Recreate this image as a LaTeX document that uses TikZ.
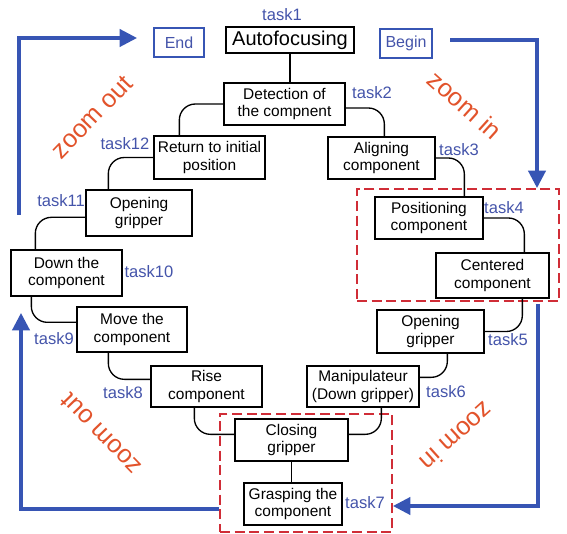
\documentclass[tikz,border=0pt]{standalone}
\usepackage{fontspec}
\setmainfont{Liberation Sans}
\usepackage{tikz}
\usetikzlibrary{calc, arrows.meta}
\definecolor{taskblue}{RGB}{68,84,170}
\definecolor{arrowblue}{RGB}{55,85,180}
\definecolor{zoomred}{RGB}{226,83,43}
\definecolor{dashred}{RGB}{208,45,55}

\begin{document}
\begin{tikzpicture}[x=0.75pt,y=0.75pt,yscale=-1,xscale=1,
    taskbox/.style={draw, line width=1pt, inner sep=0pt, align=center, font=\fontsize{11.6}{13}\selectfont},
    termbox/.style={draw=arrowblue, line width=0.8pt, text=taskblue, inner sep=0pt, font=\fontsize{12}{14}\selectfont},
    tasklbl/.style={text=taskblue, inner sep=0pt, font=\fontsize{12.4}{14}\selectfont},
    zoomlbl/.style={text=zoomred, inner sep=0pt, font=\fontsize{19}{20}\selectfont},
    redbox/.style={draw=dashred, line width=1.5pt, dash pattern=on 7.5pt off 3.5pt, inner sep=0pt},
    conn/.style={line width=1pt, rounded corners=12pt},
    zoomarrow/.style={draw=arrowblue, line width=2.3pt, -{Triangle[width=13pt,length=13pt]}}]
    %set diagram size to 567 x 534
    \useasboundingbox (0,0) rectangle (567,534);

    % dashed zones
    \node[redbox, minimum width=151.5pt, minimum height=84pt] (zr) at (458,245) {};
    \node[redbox, minimum width=129pt, minimum height=88.5pt] (zb) at (306,473) {};

    % Task boxes
    \node[taskbox, minimum width=96pt, minimum height=19.5pt, font=\fontsize{15}{17}\selectfont] (auto) at (290,40) {Autofocusing};
    \node[taskbox, minimum width=90.75pt, minimum height=31.5pt] (detect) at (284.5,104) {Detection of\\the compnent};
    \node[taskbox, minimum width=80.25pt, minimum height=31.5pt] (align) at (381.5,158) {Aligning\\component};
    \node[taskbox, minimum width=81pt, minimum height=31.5pt] (posit) at (429,218) {Positioning\\component};
    \node[taskbox, minimum width=84.75pt, minimum height=33.75pt] (center) at (492.5,275.5) {Centered\\component};
    \node[taskbox, minimum width=80.25pt, minimum height=32.25pt] (openr) at (430.5,331.5) {Opening\\gripper};
    \node[taskbox, minimum width=84pt, minimum height=30.75pt] (manip) at (363,386.5) {Manipulateur\\(Down gripper)};
    \node[taskbox, minimum width=84.75pt, minimum height=31.5pt] (close) at (291.5,440) {Closing\\gripper};
    \node[taskbox, minimum width=73.5pt, minimum height=31.5pt] (grasp) at (293,504) {Grasping the\\component};
    \node[taskbox, minimum width=83.25pt, minimum height=30.75pt] (rise) at (206.5,386.5) {Rise\\component};
    \node[taskbox, minimum width=82.5pt, minimum height=33.75pt] (move) at (132,329.5) {Move the\\component};
    \node[taskbox, minimum width=83.25pt, minimum height=34.5pt] (down) at (66.5,273) {Down the\\component};
    \node[taskbox, minimum width=79.5pt, minimum height=34.5pt] (openl) at (139,213) {Opening\\gripper};
    \node[taskbox, minimum width=83.25pt, minimum height=32.25pt] (ret) at (209.5,157.5) {Return to initial\\position};

    % Begin / End
    \node[termbox, minimum width=37.5pt, minimum height=21.75pt] (endb) at (179,42.5) {End};
    \node[termbox, minimum width=39pt, minimum height=21.75pt] (begb) at (406,43.5) {Begin};

    % Task labels
    \node[tasklbl] (t1) at (282,15) {task1};
    \node[tasklbl] (t2) at (372,93) {task2};
    \node[tasklbl] (t3) at (459,150) {task3};
    \node[tasklbl] (t4) at (504,208) {task4};
    \node[tasklbl] (t5) at (508,340) {task5};
    \node[tasklbl] (t6) at (446,392) {task6};
    \node[tasklbl] (t7) at (365,503) {task7};
    \node[tasklbl] (t8) at (123,393) {task8};
    \node[tasklbl] (t9) at (54,339) {task9};
    \node[tasklbl] (t10) at (149,272) {task10};
    \node[tasklbl] (t11) at (61,201) {task11};
    \node[tasklbl] (t12) at (125,144) {task12};

    % zoom labels
    \node[zoomlbl, rotate=46] (zo1) at (92,117) {zoom out};
    \node[zoomlbl, rotate=-42] (zi1) at (465,105) {zoom in};
    \node[zoomlbl, rotate=134] (zo2) at (101,434) {zoom out};
    \node[zoomlbl, rotate=222] (zi2) at (457,437) {zoom in};

    % Connectors
    \draw[conn] (auto.south) -- (auto.south |- detect.north);
    \draw[conn] (detect.west) -| ($(ret.north west)+(26,0)$);
    \draw[conn] ($(detect.east)+(0,4)$) -| ($(align.north west)+(57,0)$);
    \draw[conn] (align.east) -| ($(posit.north west)+(90,0)$);
    \draw[conn] (posit.east) -| ($(center.north west)+(89,0)$);
    \draw[conn] ($(center.south west)+(87,0)$) |- (openr.east);
    \draw[conn] ($(openr.south west)+(71,0)$) |- ($(manip.north east)+(0,12)$);
    \draw[conn] ($(manip.south west)+(75,0)$) |- ($(close.north east)+(0,16)$);
    \draw[conn] (close.south) -- (close.south |- grasp.north);
    \draw[conn] ($(rise.south west)+(44,0)$) |- ($(close.north west)+(0,16)$);
    \draw[conn] ($(move.south west)+(32,0)$) |- ($(rise.north west)+(0,14)$);
    \draw[conn] ($(down.south west)+(21,0)$) |- ($(move.north west)+(0,16)$);
    \draw[conn] ($(openl.north west)+(0,28)$) -| ($(down.north west)+(25,0)$);
    \draw[conn] (ret.west) -| ($(openl.north west)+(23,0)$);

    % zoom arrows
    \coordinate (bgo) at (450,40);
    \coordinate (bcor) at (537,40);
    \coordinate (rcor) at (538,506);
    \coordinate (lcor) at (21,509);
    \coordinate (lup) at (21,313);
    \coordinate (lbot) at (19,215);
    \coordinate (ltop) at (19,38);
    \coordinate (ltip) at (137,38);
    \draw[zoomarrow] (bgo) -- (bcor) -- (bcor |- zr.north);
    \draw[zoomarrow] ($(rcor |- zr.south)+(0,2)$) -- (rcor) -- (rcor -| zb.east);
    \draw[zoomarrow] (zb.west |- lcor) -- (lcor) -- (lup);
    \draw[zoomarrow] (lbot) -- (ltop) -- (ltip);

\end{tikzpicture}
\end{document}
